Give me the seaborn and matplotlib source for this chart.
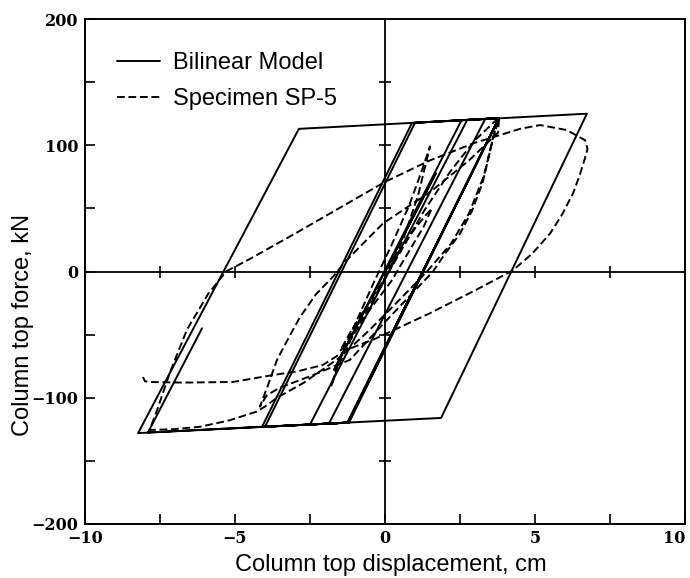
import matplotlib
matplotlib.use("Agg")
import matplotlib.pyplot as plt
from matplotlib.ticker import FixedLocator, FixedFormatter, NullFormatter
import seaborn as sns

# Bilinear hysteresis model: vertices of the force-displacement path
model_disp = [0, 1.7, -1.7, 2.55, 3.8, -1.25, -4.1, 0.9, 3.8, -1.2, -4.0, 1.0,
              3.8, -1.22, -2.5, 2.74, 3.8, -1.25, -1.87, 3.34, 3.8, -1.25,
              -8.23, -2.87, 6.73, 1.87, -7.9, -6.1]
model_force = [0, 78, -78, 119.8, 121.5, -119.7, -123.1, 117.7, 121.5, -119.7,
               -123.0, 117.8, 121.5, -119.7, -121.2, 120.0, 121.5, -119.7,
               -120.5, 120.8, 121.5, -119.7, -128.0, 113.0, 125.0, -116.0,
               -127.5, -45.0]

# Measured response of specimen SP-5
spec_disp = [0, 0.4, 0.9, 1.3, 1.56,
             1.3, 0.8, 0.2, -0.5, -1.1, -1.5,
             -1.2, -0.6, 0, 0.6, 1.1, 1.5,
             1.2, 0.8, 0.2, -0.4, -1.0, -1.5, -1.8,
             -1.5, -1.0, -0.3, 0.5, 1.3, 2.2, 3.0, 3.8,
             3.65, 3.45, 3.25, 2.9, 2.5, 2.0, 1.6, 0.8, 0, -1.17, -2.5, -3.5, -3.94, -4.17,
             -3.9, -3.6, -3.2, -2.83, -2.3, -1.73, -1.28, -0.07, 1.56, 2.8, 3.77, 3.8,
             3.6, 3.3, 2.8, 2.2, 1.4, 0.5, -0.5, -1.5, -2.7, -3.6, -4.0, -4.28, -5.2,
             -6.17, -7.1, -7.85,
             -7.6, -7.17, -6.6, -5.9, -5.3, -4.5, -3.0, -1.1, 0, 1.5, 3.0, 3.83, 4.5,
             5.17, 6.06, 6.67, 6.75, 6.67, 6.5, 6.27, 5.9, 5.5, 4.9, 4.27, 3.0, 1.5,
             -0.3, -1.27, -2.07, -2.9, -3.73, -5.07, -6.73, -7.83, -8.0, -8.07]
spec_force = [0, 14, 31, 43, 50,
              36, 16, -8, -30, -52, -63,
              -50, -27, -5, 25, 60, 99,
              78, 52, 20, -10, -42, -68, -91,
              -72, -47, -18, 15, 48, 80, 104, 122,
              110, 90, 70, 48, 30, 14, 0, -20, -40, -70, -83, -92, -98, -107,
              -90, -70, -52, -36, -18, -4, 9, 38, 64, 88, 110, 121,
              106, 76, 46, 22, 0, -22, -46, -68, -88, -100, -107, -111, -118,
              -123, -125, -125.5,
              -110, -80, -46, -18, 0, 10, 30, 56, 71, 88, 102, 108, 113,
              116, 112, 104, 97, 90, 77, 62, 45, 30, 14, 1, -15, -33,
              -53, -62, -74, -79, -82, -87.5, -88, -87.5, -87, -83.6]

x_ticks = [-10, -5, 0, 5, 10]
x_tick_labels = ["\u221210", "\u22125", "0", "5", "10"]
y_ticks = [-200, -100, 0, 100, 200]
y_tick_labels = ["\u2212200", "\u2212100", "0", "100", "200"]

sns.set_theme(style="white")
plt.rcParams["font.family"] = ["Liberation Sans", "DejaVu Sans"]

W, H = 690, 578
fig = plt.figure(figsize=(W / 100, H / 100), dpi=100)
rect = [85 / W, 54 / H, 600 / W, 505 / H]
ax = fig.add_axes(rect)

lw = 1.4
sns.lineplot(x=model_disp, y=model_force, sort=False, estimator=None,
             color="black", lw=lw, label="Bilinear Model", ax=ax)
sns.lineplot(x=spec_disp, y=spec_force, sort=False, estimator=None,
             color="black", lw=lw, linestyle=(0, (4, 1.9)),
             label="Specimen SP-5", ax=ax)

ax.set_xlim(-10, 10)
ax.set_ylim(-200, 200)

for s in ax.spines.values():
    s.set_linewidth(1.4)
    s.set_color("black")

ax.xaxis.set_major_locator(FixedLocator(x_ticks))
ax.xaxis.set_major_formatter(FixedFormatter(x_tick_labels))
ax.xaxis.set_minor_locator(FixedLocator([-7.5, -2.5, 2.5, 7.5]))
ax.yaxis.set_major_locator(FixedLocator(y_ticks))
ax.yaxis.set_major_formatter(FixedFormatter(y_tick_labels))
ax.yaxis.set_minor_locator(FixedLocator([-150, -50, 50, 150]))
ax.tick_params(which="both", direction="in", length=7, width=1.2,
               color="black", top=False, right=False, bottom=True, left=True)
ax.tick_params(axis="x", pad=4)
ax.tick_params(axis="y", pad=5)
fig.canvas.draw()
for lab in ax.get_xticklabels() + ax.get_yticklabels():
    lab.set_fontfamily("DejaVu Serif")
    lab.set_fontsize(11.5)
    lab.set_fontweight("bold")
    lab.set_color("black")
# keep the right-most label inside the figure
ax.get_xticklabels()[-1].set_horizontalalignment("right")

ax.set_xlabel("Column top displacement, cm", fontsize=17, color="black")
ax.set_ylabel("Column top force, kN", fontsize=17, color="black")
ax.xaxis.set_label_coords(0.51, -0.059)
ax.yaxis.set_label_coords(-0.085, 0.394)

leg = ax.legend(loc="upper left", bbox_to_anchor=(0.053, 0.935), frameon=False,
                fontsize=17, handlelength=1.82, handletextpad=0.55,
                borderpad=0, borderaxespad=0, labelspacing=0.6)
for t in leg.get_texts():
    t.set_color("black")

# Zero axes with crossing ticks
az = fig.add_axes(rect)
az.set_xlim(-10, 10)
az.set_ylim(-200, 200)
az.patch.set_visible(False)
az.spines["top"].set_visible(False)
az.spines["right"].set_visible(False)
az.spines["left"].set_position(("data", 0))
az.spines["bottom"].set_position(("data", 0))
for k in ("left", "bottom"):
    az.spines[k].set_linewidth(1.3)
    az.spines[k].set_color("black")
az.xaxis.set_major_locator(FixedLocator([-7.5, -5, -2.5, 2.5, 5, 7.5]))
az.yaxis.set_major_locator(FixedLocator([-150, -100, -50, 50, 100, 150]))
az.xaxis.set_major_formatter(NullFormatter())
az.yaxis.set_major_formatter(NullFormatter())
az.tick_params(which="both", direction="inout", length=9, width=1.2,
               color="black", top=False, right=False, bottom=True, left=True)

fig.savefig("out.png", dpi=100)
